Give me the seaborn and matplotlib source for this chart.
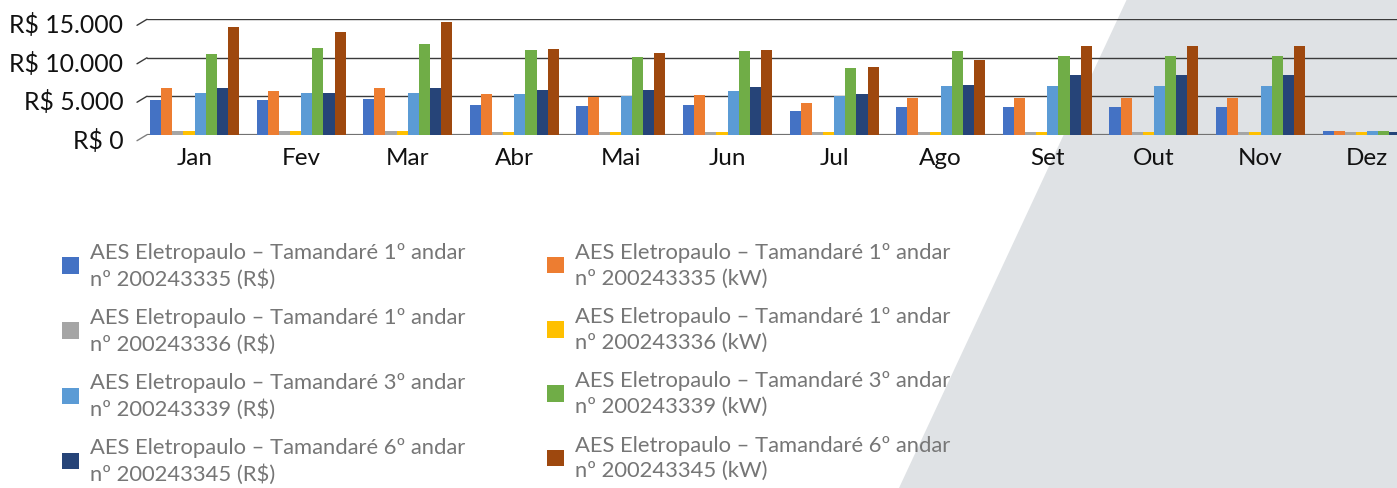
import numpy as np
import pandas as pd
import matplotlib
matplotlib.use("Agg")
import matplotlib.pyplot as plt
import seaborn as sns
from matplotlib.patches import Polygon
from matplotlib.transforms import ScaledTranslation

# dados
meses = ["Jan", "Fev", "Mar", "Abr", "Mai", "Jun", "Jul", "Ago", "Set", "Out", "Nov", "Dez"]

r335 = [4500, 4500, 4700, 3850, 3750, 3850, 3100, 3600, 3600, 3600, 3600, 450]
k335 = [6050, 5700, 6050, 5300, 4900, 5150, 4100, 4750, 4750, 4750, 4750, 450]
r336 = [480, 480, 480, 350, 350, 350, 350, 350, 350, 350, 350, 350]
k336 = [480, 480, 480, 350, 350, 350, 350, 350, 350, 350, 350, 350]
r339 = [5420, 5420, 5420, 5300, 5050, 5680, 5050, 6330, 6330, 6330, 6330, 450]
k339 = [10500, 11270, 11800, 11000, 10100, 10880, 8670, 10880, 10230, 10230, 10230, 450]
r345 = [6070, 5420, 6070, 5800, 5800, 6200, 5300, 6460, 7760, 7760, 7760, 350]
k345 = [14000, 13350, 14650, 11150, 10620, 11000, 8800, 9700, 11530, 11530, 11530, 450]

series = [
    ("AES Eletropaulo – Tamandaré 1º andar\nnº 200243335 (R$)", r335),
    ("AES Eletropaulo – Tamandaré 1º andar\nnº 200243335 (kW)", k335),
    ("AES Eletropaulo – Tamandaré 1º andar\nnº 200243336 (R$)", r336),
    ("AES Eletropaulo – Tamandaré 1º andar\nnº 200243336 (kW)", k336),
    ("AES Eletropaulo – Tamandaré 3º andar\nnº 200243339 (R$)", r339),
    ("AES Eletropaulo – Tamandaré 3º andar\nnº 200243339 (kW)", k339),
    ("AES Eletropaulo – Tamandaré 6º andar\nnº 200243345 (R$)", r345),
    ("AES Eletropaulo – Tamandaré 6º andar\nnº 200243345 (kW)", k345),
]
cores = ["#4472C4", "#ED7D31", "#A5A5A5", "#FFC000", "#5B9BD5", "#70AD47", "#264478", "#9E480E"]

rows = []
for nome, vals in series:
    for m, v in zip(meses, vals):
        rows.append({"mes": m, "serie": nome, "valor": v})
df = pd.DataFrame(rows)

sns.set_style("white")
plt.rcParams["font.family"] = ["Lato", "DejaVu Sans"]

fig = plt.figure(figsize=(13.97, 4.89), dpi=100)
fig.patch.set_facecolor("white")

# fundo cinza inclinado
fig.add_artist(Polygon([(1127 / 1397, 1), (1, 1), (1, 0), (899 / 1397, 0)],
                       closed=True, transform=fig.transFigure,
                       facecolor="#dfe2e5", edgecolor="none", zorder=-5))

ax = fig.add_axes([147 / 1397, 1 - 135.7 / 489, 1250 / 1397, 115.4 / 489])
ax.set_facecolor("none")

sns.barplot(data=df, x="mes", y="valor", hue="serie", palette=cores,
            width=0.835, saturation=1, linewidth=0, edgecolor="none",
            ax=ax, legend=True)

handles = ax.legend_.legend_handles
labels = [t.get_text() for t in ax.legend_.texts]
ax.legend_.remove()

ax.set_ylim(0, 15000)
ax.set_xlim(-0.446, 11.28)
ax.set_yticks([0, 5000, 10000, 15000])
ax.set_yticklabels(["R$ 0", "R$ 5.000", "R$ 10.000", "R$ 15.000"])
ax.set_xlabel("")
ax.set_ylabel("")
ax.tick_params(axis="y", length=0, pad=17, labelsize=17.8, labelcolor="#111111")
ax.tick_params(axis="x", length=0, pad=9, labelsize=17.5, labelcolor="#111111")
for lab in ax.get_yticklabels():
    lab.set_transform(lab.get_transform() + ScaledTranslation(0, -3 / 100, fig.dpi_scale_trans))

ax.set_axisbelow(True)
ax.yaxis.grid(True, color="#3a3a3a", lw=1.0)
for s in ax.spines.values():
    s.set_visible(False)
ax.axhline(0, color="#808080", lw=1.6, zorder=0.5)

# tracos inclinados da perspectiva
for v in [0, 1 / 3, 2 / 3, 1]:
    ax.plot([-0.008, 0], [v - 0.052, v], transform=ax.transAxes, clip_on=False,
            color="#3a3a3a" if v > 0 else "#808080", lw=1.0)

# legenda em duas colunas
for col, x0 in [(0, 62), (1, 547)]:
    idx = [col, col + 2, col + 4, col + 6]
    leg = fig.legend([handles[i] for i in idx], [labels[i] for i in idx],
                     loc="upper left", bbox_to_anchor=(x0 / 1397, 1 - 243 / 489),
                     frameon=False, fontsize=15.8, labelcolor="#767676",
                     handlelength=0.78, handleheight=0.78, handletextpad=0.5,
                     labelspacing=0.84, borderpad=0, borderaxespad=0)
    for t in leg.get_texts():
        t.set_linespacing(1.36)

fig.savefig("out.png", dpi=100)
